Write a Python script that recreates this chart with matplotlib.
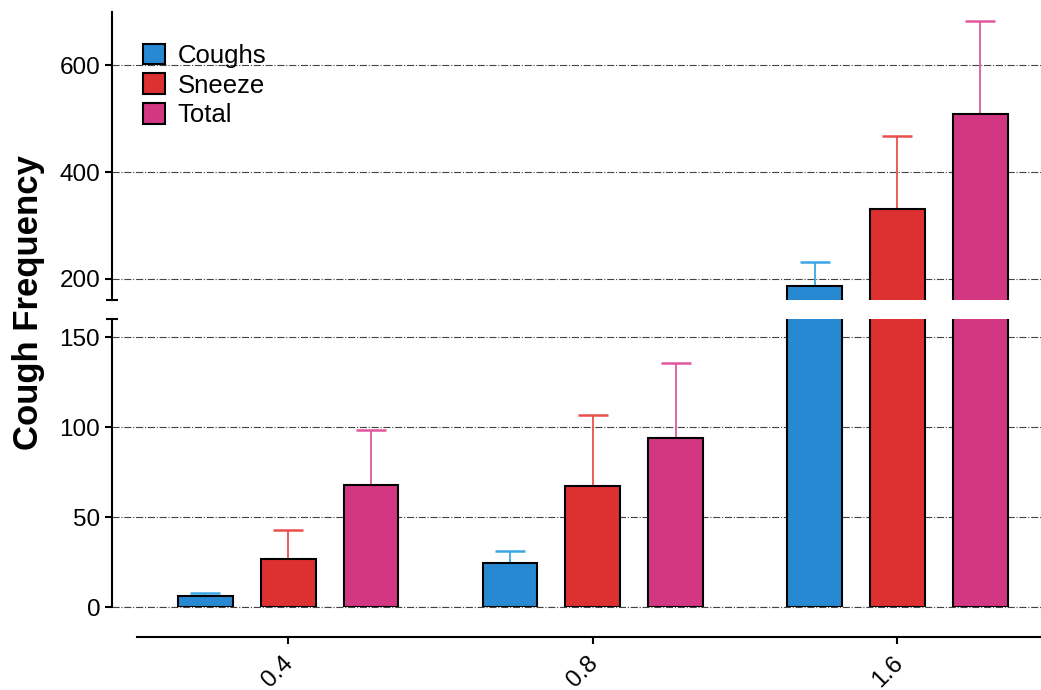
import numpy as np
import matplotlib
matplotlib.use("Agg")
import matplotlib.pyplot as plt
import matplotlib.transforms as mtransforms
from matplotlib.patches import Patch

plt.rcParams['font.family'] = ['Liberation Sans', 'DejaVu Sans']

doses = ['0.4', '0.8', '1.6']
series = ['Coughs', 'Sneeze', 'Total']
coughs = [6.3, 24.7, 187]
coughs_err = [1.8, 6.5, 45]
sneeze = [26.9, 67.3, 331]
sneeze_err = [15.9, 39.6, 137]
total = [67.7, 93.9, 508]
total_err = [30.5, 41.5, 175]

fill_colors = ['#2889d3', '#dc3130', '#d33784']
err_colors = ['#3aa6e6', '#e9504b', '#e0569c']

values = [coughs, sneeze, total]
errors = [coughs_err, sneeze_err, total_err]

fig = plt.figure(figsize=(10.41, 6.9), dpi=100)
ax_top = fig.add_axes([0.1076, 0.5652, 0.8924, 0.4174])
ax_bot = fig.add_axes([0.1076, 0.1199, 0.8924, 0.4178])

x = np.arange(len(doses))
width = 0.18
offsets = [-0.272, 0.0, 0.272]

for ax in (ax_top, ax_bot):
    for i in range(3):
        ax.bar(x + offsets[i], values[i], width, color=fill_colors[i],
               edgecolor='black', linewidth=1.5, zorder=3)
        ax.errorbar(x + offsets[i], values[i], yerr=[np.zeros(3), errors[i]],
                    fmt='none', ecolor=err_colors[i], elinewidth=1.3,
                    capsize=10.5, capthick=1.8, zorder=2)
    ax.set_xlim(-0.578, 2.471)
    ax.grid(axis='y', linestyle='-.', color='#444444', linewidth=0.8, zorder=0)
    ax.spines['top'].set_visible(False)
    ax.spines['right'].set_visible(False)
    ax.spines['left'].set_linewidth(1.5)
    ax.tick_params(axis='y', labelsize=17.5, width=1.5, length=5, direction='out')
    ax.set_axisbelow(True)

ax_top.set_ylim(160, 700)
ax_top.set_yticks([200, 400, 600])
ax_top.spines['bottom'].set_visible(False)
ax_top.tick_params(axis='x', bottom=False, labelbottom=False)
ax_top.spines['left'].set_bounds(160, 700)

ax_bot.set_ylim(0, 160)
ax_bot.set_yticks([0, 50, 100, 150])
ax_bot.spines['left'].set_bounds(0, 160)
ax_bot.axhline(0, linestyle='-.', color='#444444', linewidth=0.8, zorder=1, clip_on=False)
ax_bot.spines['bottom'].set_position(('outward', 21.5))
ax_bot.spines['bottom'].set_bounds(-0.496, 2.471)
ax_bot.spines['bottom'].set_linewidth(1.5)
ax_bot.set_xticks(x)
ax_bot.set_xticklabels(doses, rotation=45, ha='right', rotation_mode='anchor')
ax_bot.tick_params(axis='x', labelsize=17.5, width=1.5, length=5)
shift = mtransforms.ScaledTranslation(-6 / 100, -3 / 100, fig.dpi_scale_trans)
for lab in ax_bot.get_xticklabels():
    lab.set_transform(lab.get_transform() + shift)

# small caps at the broken ends of the y axis
ax_top.plot([0], [0], marker='_', markersize=9, markeredgewidth=1.5, color='black',
            transform=ax_top.transAxes, clip_on=False, zorder=5)
ax_bot.plot([0], [1], marker='_', markersize=9, markeredgewidth=1.5, color='black',
            transform=ax_bot.transAxes, clip_on=False, zorder=5)

handles = [Patch(facecolor=fill_colors[i], edgecolor='black', linewidth=1.5, label=series[i])
           for i in range(3)]
ax_top.legend(handles=handles, loc='upper left', bbox_to_anchor=(0.0334, 0.89),
              frameon=False, fontsize=18.5, handlelength=0.85, handleheight=0.85,
              handletextpad=0.5, labelspacing=0.22, borderaxespad=0, borderpad=0)

fig.text(0.027, 1 - 302 / 690, 'Cough Frequency', rotation=90, fontsize=25,
         fontweight='bold', ha='center', va='center')

fig.savefig('out.png', dpi=100)
